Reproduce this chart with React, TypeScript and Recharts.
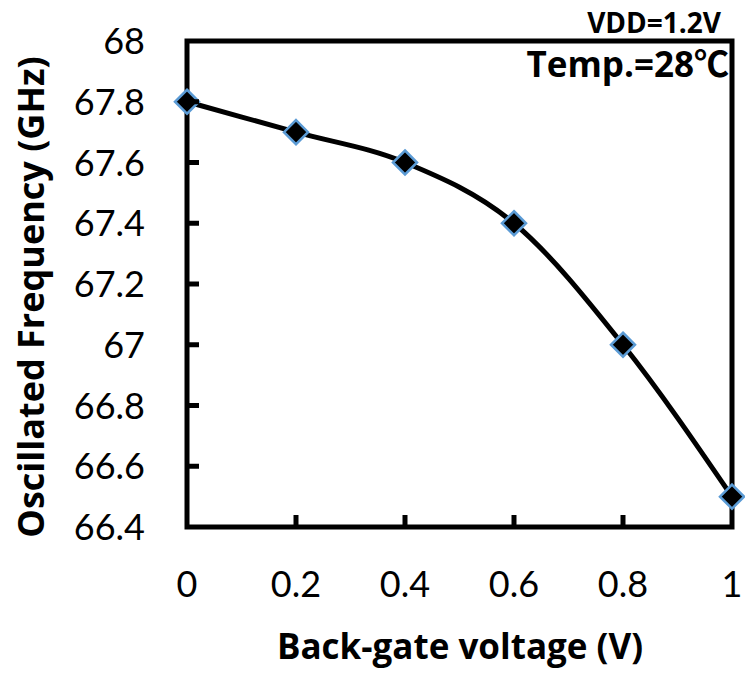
import React from 'react';
import { LineChart, Line, XAxis, YAxis, ReferenceArea } from 'recharts';

const voltages = [0, 0.2, 0.4, 0.6, 0.8, 1];
const frequencies = [67.8, 67.7, 67.6, 67.4, 67.0, 66.5];
const xTicks = [0, 0.2, 0.4, 0.6, 0.8, 1];
const yTicks = [66.4, 66.6, 66.8, 67, 67.2, 67.4, 67.6, 67.8, 68];
const xTitle = 'Back-gate voltage (V)';
const yTitle = 'Oscillated Frequency (GHz)';
const note1 = 'VDD=1.2V';
const note2 = 'Temp.=28℃';

const data = voltages.map((v, i) => ({ v, f: frequencies[i] }));

const FONT = "Lato, 'Noto Sans CJK SC', sans-serif";
const BOLD_FONT = "'Open Sans', 'Noto Sans CJK SC', sans-serif";

const XTick = (props: any) => {
  const { x, y, payload } = props;
  const isEdge = payload.value === 0 || payload.value === 1;
  return (
    <g>
      {!isEdge && <line x1={x} y1={y} x2={x} y2={y - 12} stroke="#000" strokeWidth={5} />}
      <text x={x} y={y + 70} textAnchor="middle" fontFamily={FONT} fontSize={36} fill="#000">
        {String(payload.value)}
      </text>
    </g>
  );
};

const YTick = (props: any) => {
  const { x, y, payload } = props;
  const isEdge = payload.value === 66.4 || payload.value === 68;
  return (
    <g>
      {!isEdge && <line x1={x} y1={y} x2={x + 12} y2={y} stroke="#000" strokeWidth={5} />}
      <text x={x - 42} y={y + 13} textAnchor="end" fontFamily={FONT} fontSize={36} fill="#000">
        {String(payload.value)}
      </text>
    </g>
  );
};

const Diamond = (props: any) => {
  const { cx, cy } = props;
  if (cx == null || cy == null) return null;
  const r = 12;
  return (
    <polygon
      points={`${cx},${cy - r} ${cx + r},${cy} ${cx},${cy + r} ${cx - r},${cy}`}
      fill="#000"
      stroke="#5B9BD5"
      strokeWidth={2.5}
    />
  );
};

export default function App() {
  return (
    <div style={{ position: 'absolute', left: 0, top: 0, width: 745, height: 673, background: '#fff' }}>
      <LineChart width={745} height={673} data={data} margin={{ top: 41, right: 13, bottom: 0, left: 0 }}>
        <XAxis
          dataKey="v"
          type="number"
          domain={[0, 1]}
          ticks={xTicks}
          height={146}
          tickSize={0}
          tickMargin={0}
          axisLine={false}
          tickLine={false}
          tick={<XTick />}
          interval={0}
        />
        <YAxis
          type="number"
          domain={[66.4, 68]}
          ticks={yTicks}
          width={187}
          tickSize={0}
          tickMargin={0}
          axisLine={false}
          tickLine={false}
          tick={<YTick />}
          interval={0}
        />
        <ReferenceArea x1={0} x2={1} y1={66.4} y2={68} fill="none" fillOpacity={0} stroke="#000" strokeWidth={5} ifOverflow="visible" />
        <Line
          type="monotone"
          dataKey="f"
          stroke="#000"
          strokeWidth={5}
          dot={<Diamond />}
          activeDot={false}
          isAnimationActive={false}
        />
      </LineChart>
      <svg width={745} height={673} style={{ position: 'absolute', left: 0, top: 0, pointerEvents: 'none' }}>
        <text x={721} y={33} textAnchor="end" fontFamily={BOLD_FONT} fontWeight="bold" fontSize={28} fill="#000">{note1}</text>
        <text x={729} y={77} textAnchor="end" fontFamily={BOLD_FONT} fontWeight="bold" fontSize={35} fill="#000">{note2}</text>
        <text x={460} y={659} textAnchor="middle" fontFamily={BOLD_FONT} fontWeight="bold" fontSize={35} fill="#000">{xTitle}</text>
        <text
          x={0}
          y={0}
          transform="translate(44, 297) rotate(-90)"
          textAnchor="middle"
          fontFamily={BOLD_FONT}
          fontWeight="bold"
          fontSize={36}
          fill="#000"
        >
          {yTitle}
        </text>
      </svg>
    </div>
  );
}
